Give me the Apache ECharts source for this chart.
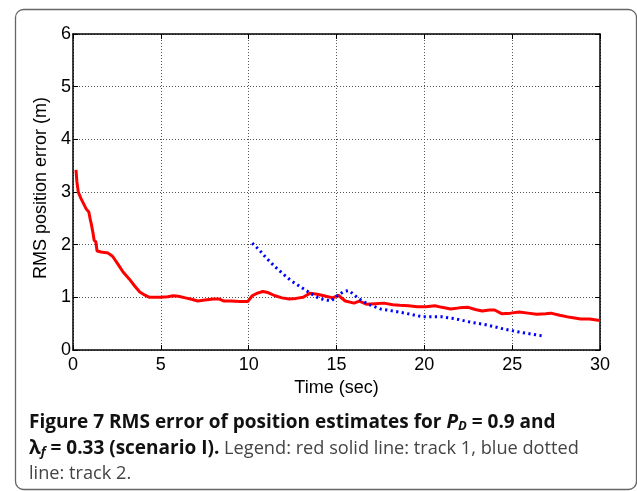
<!DOCTYPE html>
<html>
<head>
<meta charset="utf-8">
<style>
  html, body { margin: 0; padding: 0; background: #fff; }
  #chart { width: 637px; height: 491px; }
</style>
<script src="https://cdn.jsdelivr.net/npm/echarts@6/dist/echarts.min.js"></script>
</head>
<body>
<div id="chart"></div>
<script>
// Track 1 (red solid): time (s) and RMS position error (m)
const track1Time = [0.17, 0.22, 0.3, 0.45, 0.6, 0.75, 0.9, 1.0, 1.05, 1.15, 1.2, 1.3, 1.37, 1.6, 2.0, 2.25, 2.5, 2.85, 3.2, 3.5, 3.8, 4.1, 4.35, 4.7, 5.0, 5.4, 5.7, 6.0, 6.4, 6.8, 7.1, 7.5, 8.0, 8.3, 8.6, 9.0, 9.5, 9.95, 10.2, 10.5, 10.8, 11.1, 11.5, 11.9, 12.3, 12.7, 13.1, 13.5, 13.9, 14.4, 14.8, 15.1, 15.5, 16.0, 16.3, 16.7, 17.2, 17.7, 18.2, 18.6, 19.1, 19.6, 20.1, 20.6, 21.0, 21.5, 22.0, 22.5, 22.9, 23.3, 23.7, 24.0, 24.4, 24.9, 25.4, 25.9, 26.4, 26.9, 27.2, 27.7, 28.3, 28.9, 29.4, 30.0];
const track1RMS = [3.42, 3.2, 3.0, 2.88, 2.78, 2.68, 2.62, 2.45, 2.38, 2.2, 2.09, 2.05, 1.88, 1.86, 1.84, 1.78, 1.66, 1.48, 1.35, 1.22, 1.10, 1.04, 1.00, 1.0, 1.0, 1.01, 1.03, 1.02, 0.99, 0.96, 0.93, 0.95, 0.97, 0.97, 0.93, 0.93, 0.92, 0.92, 1.03, 1.08, 1.11, 1.09, 1.03, 0.99, 0.97, 0.98, 1.0, 1.08, 1.06, 1.02, 0.99, 1.04, 0.93, 0.89, 0.93, 0.87, 0.88, 0.89, 0.86, 0.85, 0.84, 0.82, 0.82, 0.84, 0.81, 0.78, 0.80, 0.81, 0.77, 0.74, 0.76, 0.76, 0.69, 0.70, 0.72, 0.70, 0.68, 0.69, 0.70, 0.66, 0.62, 0.59, 0.59, 0.56];

// Track 2 (blue dotted)
const track2Time = [10.2, 10.6, 11.0, 11.5, 11.97, 12.4, 12.9, 13.5, 14.0, 14.4, 14.7, 15.0, 15.4, 15.7, 16.0, 16.24, 16.8, 17.5, 18.4, 19.2, 19.9, 21.0, 21.8, 22.6, 23.5, 24.5, 25.4, 26.5, 26.7];
const track2RMS = [2.03, 1.9, 1.75, 1.58, 1.44, 1.32, 1.21, 1.08, 0.98, 0.95, 0.93, 1.02, 1.11, 1.13, 1.05, 0.98, 0.87, 0.78, 0.73, 0.68, 0.63, 0.63, 0.59, 0.53, 0.48, 0.40, 0.34, 0.28, 0.27];

// Axis ticks
const xTicks = [0, 5, 10, 15, 20, 25, 30];
const yTicks = [0, 1, 2, 3, 4, 5, 6];

const xName = 'Time (sec)';
const yName = 'RMS position error (m)';

const pair = (xs, ys) => xs.map((x, i) => [x, ys[i]]);

const axisFont = 'Liberation Sans, Arial, Helvetica, sans-serif';
const capFont = '"Open Sans", "Noto Sans", sans-serif';

const frameLine = { show: true, onZero: false, lineStyle: { color: '#000', width: 1.5 } };
const gridDots = { show: true, lineStyle: { color: '#555', width: 1, type: [1, 2] } };
const innerTick = { show: true, inside: true, length: 5, lineStyle: { color: '#000', width: 1 } };

const chart = echarts.init(document.getElementById('chart'), null, { renderer: 'canvas' });

chart.setOption({
  backgroundColor: '#fff',
  animation: false,
  grid: { left: 73, top: 34, width: 527, height: 316, containLabel: false },
  xAxis: [
    {
      type: 'value', min: xTicks[0], max: xTicks[xTicks.length - 1], interval: 5,
      position: 'bottom',
      name: xName, nameLocation: 'middle', nameGap: 21,
      nameTextStyle: { fontFamily: axisFont, fontSize: 18, color: '#000' },
      axisLine: frameLine,
      axisTick: innerTick,
      axisLabel: { show: true, margin: 6, fontFamily: axisFont, fontSize: 18, color: '#000' },
      splitLine: gridDots
    },
    {
      type: 'value', min: xTicks[0], max: xTicks[xTicks.length - 1], interval: 5,
      position: 'top',
      axisLine: frameLine,
      axisTick: innerTick,
      axisLabel: { show: false },
      splitLine: { show: false }
    }
  ],
  yAxis: [
    {
      type: 'value', min: yTicks[0], max: yTicks[yTicks.length - 1], interval: 1,
      position: 'left',
      name: yName, nameLocation: 'middle', nameGap: 12,
      nameTextStyle: { fontFamily: axisFont, fontSize: 18, color: '#000', padding: [0, 0, 0, 8] },
      axisLine: frameLine,
      axisTick: innerTick,
      axisLabel: { show: true, margin: 2, fontFamily: axisFont, fontSize: 18, color: '#000' },
      splitLine: gridDots
    },
    {
      type: 'value', min: yTicks[0], max: yTicks[yTicks.length - 1], interval: 1,
      position: 'right',
      axisLine: frameLine,
      axisTick: innerTick,
      axisLabel: { show: false },
      splitLine: { show: false }
    }
  ],
  series: [
    {
      name: 'track 1', type: 'line', xAxisIndex: 0, yAxisIndex: 0,
      data: pair(track1Time, track1RMS),
      showSymbol: false, smooth: false,
      lineStyle: { color: '#ff0000', width: 3 }
    },
    {
      name: 'track 2', type: 'line', xAxisIndex: 0, yAxisIndex: 0,
      data: pair(track2Time, track2RMS),
      showSymbol: false, smooth: false,
      lineStyle: { color: '#0000ff', width: 3, type: [2.2, 3.4] }
    }
  ],
  graphic: [
    {
      type: 'rect', left: 13, top: 7, z: -1,
      shape: { width: 621, height: 480, r: 8 },
      style: { fill: 'none', stroke: '#666', lineWidth: 1.3 }
    },
    {
      type: 'text', x: 29, y: 412,
      style: {
        text: '{b|Figure 7 RMS error of position estimates for }{bi|P}{sub|D}{b| = 0.9 and}',
        rich: {
          b: { fontFamily: capFont, fontWeight: 'bold', fontSize: 19, fill: '#111' },
          bi: { fontFamily: capFont, fontWeight: 'bold', fontStyle: 'italic', fontSize: 19, fill: '#111' },
          sub: { fontFamily: capFont, fontWeight: 'bold', fontStyle: 'italic', fontSize: 13, fill: '#111', padding: [8, 0, 0, 0] }
        }
      }
    },
    {
      type: 'text', x: 29, y: 438,
      style: {
        text: '{bi|λ}{sub|f}{b| = 0.33 (scenario I).}{r| Legend: red solid line: track 1, blue dotted}',
        rich: {
          b: { fontFamily: capFont, fontWeight: 'bold', fontSize: 19, fill: '#111' },
          bi: { fontFamily: capFont, fontWeight: 'bold', fontSize: 19, fill: '#111' },
          sub: { fontFamily: capFont, fontWeight: 'bold', fontStyle: 'italic', fontSize: 13, fill: '#111', padding: [8, 0, 0, 0] },
          r: { fontFamily: capFont, fontSize: 18.2, fill: '#444' }
        }
      }
    },
    {
      type: 'text', x: 29, y: 465,
      style: {
        text: 'line: track 2.',
        fontFamily: capFont, fontSize: 18.2, fill: '#444'
      }
    }
  ]
});
</script>
</body>
</html>
